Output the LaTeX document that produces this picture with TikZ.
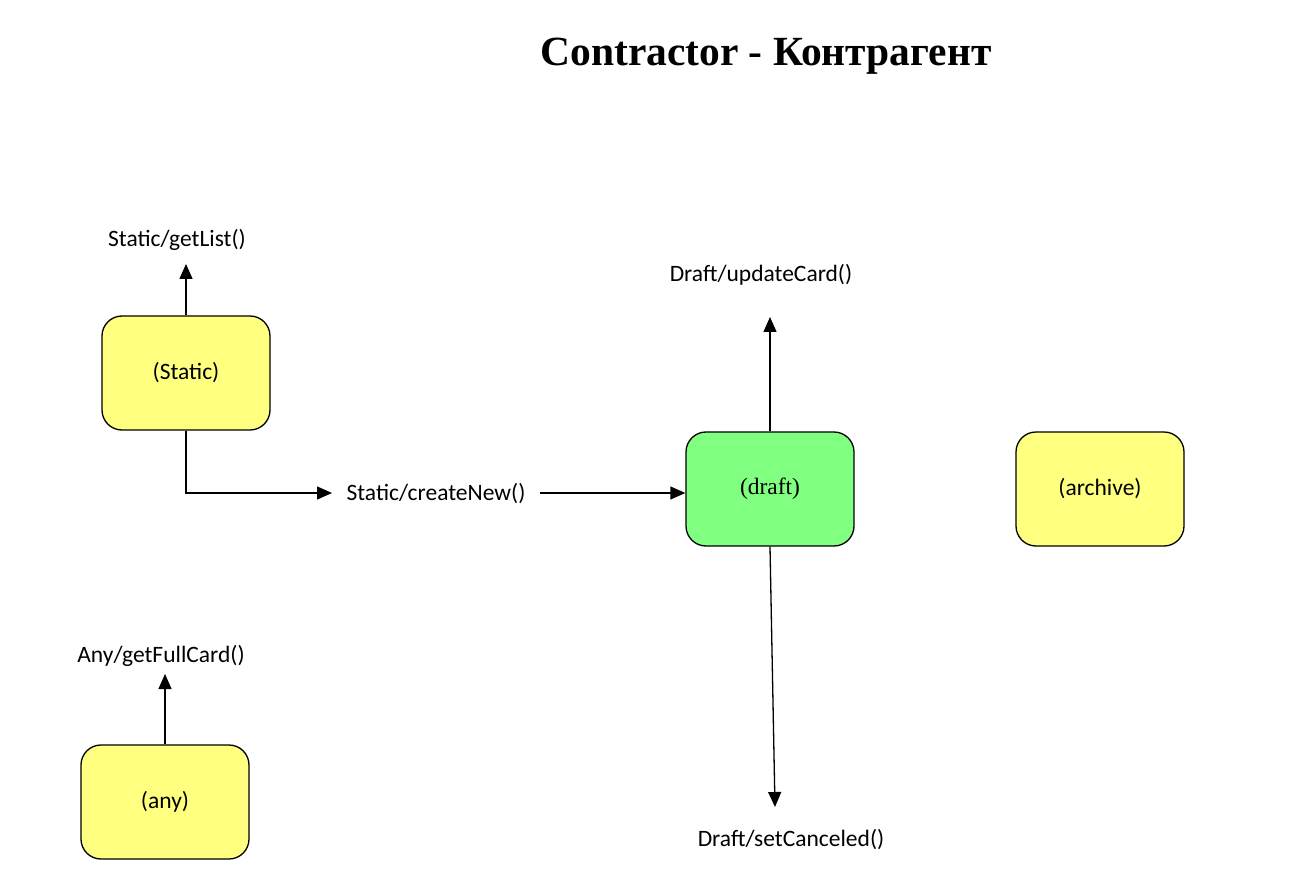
\documentclass[tikz,border=0pt]{standalone}
\usepackage{fontspec}
\setmainfont{Carlito}
\newfontfamily\titlefont{Liberation Serif}
\usetikzlibrary{arrows.meta}
\definecolor{stYellow}{HTML}{FFFF80}
\definecolor{stGreen}{HTML}{80FF80}
\tikzset{
  statebox/.style={draw=black, line width=1.3pt, rounded corners=20pt, minimum width=168pt, minimum height=114pt, inner sep=0pt, font=\fontsize{23.5}{27}\selectfont},
  lbl/.style={inner sep=0pt, font=\fontsize{23.5}{27}\selectfont},
  conn/.style={line width=1.3pt, -{Triangle[length=15pt,width=13pt]}},
}
\begin{document}
\begin{tikzpicture}[x=1pt,y=-1pt]
\useasboundingbox (0,0) rectangle (1299,890);
\node[font=\titlefont\bfseries\fontsize{41.5}{46}\selectfont, inner sep=0pt] (title) at (766,56) {Contractor - Контрагент};

\node[statebox, fill=stYellow] (static) at (186,373) {(Static)};
\node[statebox, fill=stGreen, font=\titlefont\fontsize{23.5}{27}\selectfont] (draft) at (770,489) {(draft)};
\node[statebox, fill=stYellow] (archive) at (1100,489) {(archive)};
\node[statebox, fill=stYellow] (any) at (165,802) {(any)};

\node[lbl] (getlist) at (177,240) {Static/getList()};
\node[lbl] (createnew) at (436,494) {Static/createNew()};
\node[lbl] (update) at (761,275) {Draft/updateCard()};
\node[lbl] (cancel) at (791,840) {Draft/setCanceled()};
\node[lbl] (fullcard) at (161,656) {Any/getFullCard()};

\coordinate (glEnd) at (186,264);
\coordinate (upEnd) at (770,317);
\coordinate (cnEnd) at (775,807);
\coordinate (fcEnd) at (165,674);
\coordinate (cnIn) at (332,493);
\coordinate (cnOut) at (540,493);

\draw[conn] (static.north) -- (glEnd);
\draw[conn] (static.south) |- (cnIn);
\draw[conn] (cnOut) -- (draft.west |- cnOut);
\draw[conn] (draft.north) -- (upEnd);
\draw[conn] (draft.south) -- (cnEnd);
\draw[conn] (any.north) -- (fcEnd);
\end{tikzpicture}
\end{document}
